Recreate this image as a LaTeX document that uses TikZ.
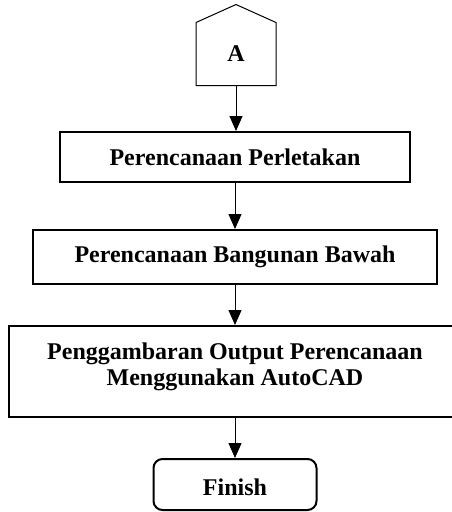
\documentclass[tikz,border=0pt]{standalone}
\usepackage{fontspec}
\setmainfont{Liberation Serif}
\usetikzlibrary{arrows.meta}
\def\flowx{235}
\def\tipsize{width=13pt,length=15pt}

\begin{document}
\begin{tikzpicture}[x=1pt,y=1pt,-{Triangle[\tipsize]},line width=1pt,
        font=\fontsize{24}{26}\selectfont\bfseries]
            \tikzstyle{process}=[draw,rectangle,line width=2pt,align=center,inner sep=0pt]
            \tikzstyle{terminal}=[process,rounded corners=9pt]
            \tikzstyle{offpage}=[rectangle,inner sep=0pt,minimum width=79pt,minimum height=62pt]

            \useasboundingbox (0,0) rectangle (452,-512);

            % Draw the off-page connector
            \node[offpage] (A) at (\flowx+1,-54) {A};
            \draw[-] (A.south west) -- (A.north west) -- ([yshift=18pt]A.north)
                -- (A.north east) -- (A.south east) -- cycle;

            % Draw the process steps
            \node[process, minimum width=350pt, minimum height=50pt] (perletakan) at (\flowx,-157) {Perencanaan Perletakan};
            \node[process, minimum width=404pt, minimum height=54pt] (bawah) at (\flowx,-257) {Perencanaan Bangunan Bawah};
            \node[process, minimum width=452pt, minimum height=91pt, text depth=15pt] (autocad) at (\flowx,-371.5)
                {Penggambaran Output Perencanaan\\Menggunakan AutoCAD};
            \node[terminal, minimum width=163pt, minimum height=51pt, text height=22pt] (finish) at (\flowx,-484.5) {Finish};

            % Connect every step with the next one
            \foreach \source / \dest in {A/perletakan, perletakan/bawah, bawah/autocad, autocad/finish}
                \path (\source) edge (\source |- \dest.north);
        \end{tikzpicture}
\end{document}
